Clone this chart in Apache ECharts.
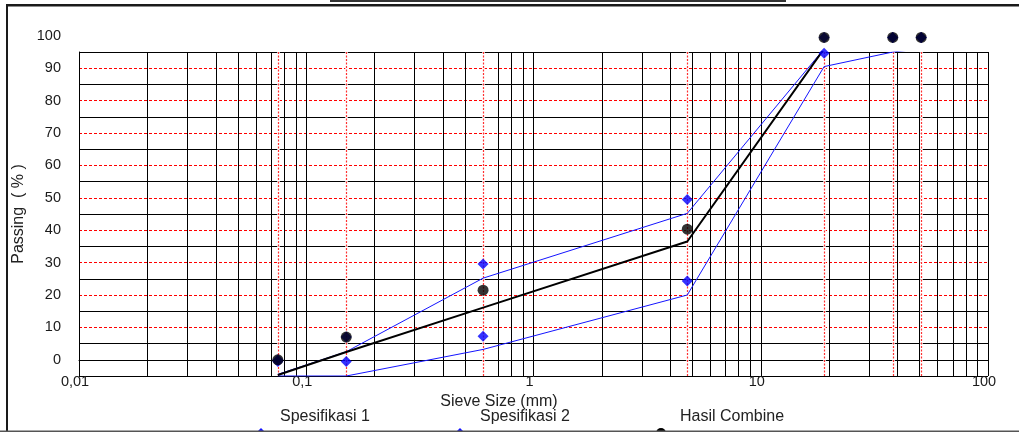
<!DOCTYPE html>
<html><head><meta charset="utf-8">
<script src="https://cdn.jsdelivr.net/npm/echarts@6/dist/echarts.min.js"></script>
<style>html,body{margin:0;padding:0;background:#fff}#c{width:1019px;height:432px}</style>
</head><body><div id="c"></div>
<script>
// ---- data ----
const sieveSizes      = [0.075, 0.15, 0.6, 4.75, 19, 38.1, 50.8];
const spec1Markers    = [-0.5, -0.5, 7.3, 24.3, 94.6, 99.5, 99.5];
const spec2Markers    = [0, 7, 29.6, 49.5, 99.5, 99.5, 99.5];
const combineMarkers  = [0, 7, 21.5, 40.3, 99.5, 99.5, 99.5];
const spec1Line       = [-5, -5, 3.2, 20, 90.5, 95, 96];
const spec2Line       = [-4.5, 2.5, 25.2, 45.2, 96, 96, 96];
const combineLine     = [-4.7, 2.4, 16.1, 36.5, 96, 96, 96];
const xTickValues     = [0.01, 0.1, 1, 10, 100];
const xTickLabels     = ['0,01', '0,1', '1', '10', '100'];
const minorGridValues = [0.02,0.03,0.04,0.05,0.06,0.07,0.08,0.09,
                         0.2,0.3,0.4,0.5,0.6,0.7,0.8,0.9,
                         2,3,4,5,6,7,8,9,
                         20,30,40,50,60,70,80,90];
const seriesNames     = ['Spesifikasi 1', 'Spesifikasi 2', 'Hasil Combine'];

const FONT = 'Liberation Sans, Arial, sans-serif';
const BLUE = '#1414ff';
const pairs = (ys) => sieveSizes.map((x, i) => [x, ys[i]]);

const chart = echarts.init(document.getElementById('c'), null, {renderer: 'canvas'});

const gridA = {left: 79, right: 31, top: 52, bottom: 56};
const gridB = {left: 79, right: 31, top: 35.8, bottom: 72.2};

function xLabel(v) {
  let best = 0;
  xTickValues.forEach((t, i) => { if (Math.abs(Math.log10(t) - Math.log10(v)) < Math.abs(Math.log10(xTickValues[best]) - Math.log10(v))) best = i; });
  return xTickLabels[best];
}

function textLegend(name, left) {
  return {data: [{name: name}], left: left, top: 409, padding: 0, itemWidth: 0, itemHeight: 0, icon: 'rect',
          selectedMode: false, textStyle: {fontSize: 16, color: '#222', fontFamily: FONT}};
}
function iconLegend(name, icon, left, size) {
  return {data: [{name: name, icon: icon}], left: left, top: 428, padding: 0, itemWidth: size, itemHeight: size,
          selectedMode: false, formatter: () => '', textStyle: {fontSize: 1}};
}
function vLines(values, z, lineStyle) {
  return {type: 'line', xAxisIndex: 0, yAxisIndex: 0, data: [], z: z, silent: true,
          markLine: {z: z, precision: 6, silent: true, symbol: ['none', 'none'], label: {show: false}, animation: false,
                     emphasis: {disabled: true}, lineStyle: lineStyle,
                     data: values.map(v => ({xAxis: v}))}};
}

const option = {
  backgroundColor: '#fff',
  animation: false,
  textStyle: {fontFamily: FONT},
  grid: [Object.assign({}, gridA), Object.assign({}, gridB)],
  legend: [
    textLegend(seriesNames[0], 275),
    textLegend(seriesNames[1], 475),
    textLegend(seriesNames[2], 675),
    iconLegend(seriesNames[0], 'diamond', 256, 10),
    iconLegend(seriesNames[1], 'diamond', 455, 10),
    iconLegend(seriesNames[2], 'circle', 656, 10)
  ],
  xAxis: [
    {type: 'log', logBase: 10, min: 0.01, max: 100, gridIndex: 0,
     axisLine: {show: true, lineStyle: {color: '#000', width: 1}},
     axisTick: {show: false},
     axisLabel: {formatter: xLabel, fontSize: 14.5, color: '#1a1a1a', margin: -2, padding: [0, 8, 0, 0]},
     splitLine: {show: true, lineStyle: {color: '#000', width: 1}},
     name: 'Sieve Size (mm)', nameLocation: 'middle', nameGap: 9,
     nameTextStyle: {fontSize: 16, color: '#222', padding: [0, 69, 0, 0]}},
    {type: 'log', logBase: 10, min: 0.01, max: 100, gridIndex: 1, show: false}
  ],
  yAxis: [
    {type: 'value', min: -5, max: 95, interval: 10, gridIndex: 0,
     axisLine: {show: true, lineStyle: {color: '#000', width: 1}},
     axisTick: {show: false}, axisLabel: {show: false},
     splitLine: {show: true, lineStyle: {color: '#000', width: 1}},
     name: 'Passing  ( % )', nameLocation: 'middle', nameGap: 52,
     nameTextStyle: {fontSize: 16, color: '#222'}},
    {type: 'value', min: 0, max: 100, interval: 10, gridIndex: 1,
     axisLine: {show: false}, axisTick: {show: false},
     axisLabel: {fontSize: 14.5, color: '#1a1a1a', margin: 18},
     splitLine: {show: true, showMaxLine: false, lineStyle: {color: '#ff0000', width: 1, type: [3, 2]}}}
  ],
  series: [
    vLines(minorGridValues, 1, {color: '#000', width: 1, type: 'solid'}),
    vLines(sieveSizes, 1.5, {color: '#ffffff', width: 2.5, type: 'solid'}),
    vLines(sieveSizes, 2, {color: '#ff3030', width: 1.2, type: [2, 1.5]}),
    {type: 'line', name: seriesNames[0], xAxisIndex: 0, yAxisIndex: 0, data: pairs(spec1Line),
     showSymbol: false, symbol: 'none', smooth: false, lineStyle: {color: BLUE, width: 1}, itemStyle: {color: BLUE}, z: 3},
    {type: 'line', name: seriesNames[1], xAxisIndex: 0, yAxisIndex: 0, data: pairs(spec2Line),
     showSymbol: false, symbol: 'none', smooth: false, lineStyle: {color: BLUE, width: 1}, itemStyle: {color: BLUE}, z: 3},
    {type: 'line', name: seriesNames[2], xAxisIndex: 0, yAxisIndex: 0, data: pairs(combineLine),
     showSymbol: false, symbol: 'none', smooth: false, lineStyle: {color: '#000', width: 2}, itemStyle: {color: '#000'}, z: 4},
    {type: 'scatter', name: seriesNames[0], xAxisIndex: 1, yAxisIndex: 1, data: pairs(spec1Markers),
     symbol: 'diamond', symbolSize: 11, itemStyle: {color: '#0000ff'}, clip: false, z: 5},
    {type: 'scatter', name: seriesNames[1], xAxisIndex: 1, yAxisIndex: 1, data: pairs(spec2Markers),
     symbol: 'diamond', symbolSize: 11, itemStyle: {color: '#0000ff'}, clip: false, z: 5},
    {type: 'scatter', name: seriesNames[2], xAxisIndex: 1, yAxisIndex: 1, data: pairs(combineMarkers),
     symbol: 'circle', symbolSize: 11, itemStyle: {color: '#000'}, clip: false, z: 6}
  ],
  graphic: [
    {type: 'rect', shape: {x: 6, y: 4, width: 2, height: 428}, style: {fill: '#1a1a1a'}, silent: true, z: 100},
    {type: 'rect', shape: {x: 6, y: 4, width: 1013, height: 2.5}, style: {fill: '#1a1a1a'}, silent: true, z: 100},
    {type: 'rect', shape: {x: 330, y: 0, width: 456, height: 2}, style: {fill: '#333'}, silent: true, z: 100},
    {type: 'rect', shape: {x: 0, y: 430.5, width: 1019, height: 1.5}, style: {fill: '#555'}, silent: true, z: 100}
  ]
};
chart.setOption(option);
</script>
</body></html>
